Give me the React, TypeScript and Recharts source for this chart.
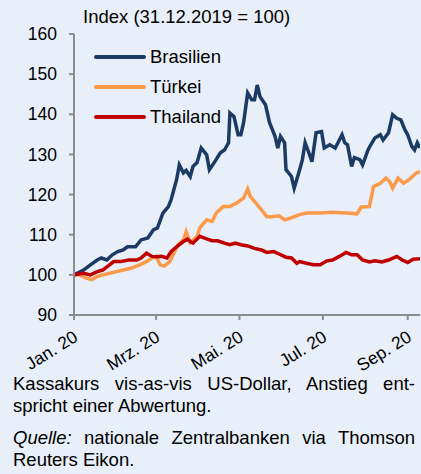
import { LineChart, Line, XAxis, YAxis, Legend } from 'recharts';

// days since 31.12.2019
const TICK_DAYS = [0, 60, 121, 182, 244];
const TICK_LABELS = ['Jan. 20', 'Mrz. 20', 'Mai. 20', 'Jul. 20', 'Sep. 20'];
const Y_TICKS = [90, 100, 110, 120, 130, 140, 150, 160];

const BR_DAYS = [0, 7, 12, 17, 20, 24, 28, 32, 36, 39, 45, 49, 54, 58, 61, 65, 69, 71, 75, 77, 80, 82, 85, 87, 90, 93, 97, 99, 103, 107, 110, 113, 114, 117, 120, 122, 124, 127, 130, 132, 134, 136, 140, 143, 147, 149, 151, 154, 155, 159, 161, 165, 167, 169, 171, 174, 177, 181, 183, 187, 191, 193, 196, 198, 200, 203, 205, 209, 211, 215, 217, 220, 224, 226, 230, 233, 236, 239, 242, 244, 247, 249, 251, 253];
const BR_VALUES = [100, 101.2, 102.5, 103.7, 104.2, 103.7, 105, 105.8, 106.2, 107, 107, 108.7, 109.2, 111.2, 111.7, 115.4, 117, 118.7, 123.7, 127.4, 125.4, 126, 124.5, 127, 128, 131.6, 129.9, 126.2, 128.2, 130.4, 131.1, 132.9, 140.3, 139.4, 134.9, 134.9, 137.9, 145.3, 143.6, 143.6, 147.3, 144.4, 142.4, 137.9, 134.5, 131.6, 134.5, 132.9, 126.2, 124.5, 121.6, 126.2, 128.7, 132.9, 131.1, 128.2, 135.4, 135.7, 131.6, 132.4, 131.6, 132.9, 134.9, 132.9, 132.4, 127, 129.2, 128.7, 127.4, 131.1, 132.4, 134.1, 134.9, 133.6, 135.4, 139.9, 139, 138.6, 136.1, 134.9, 132, 131.1, 132.9, 131.6];

const TR_DAYS = [0, 4, 9, 13, 17, 21, 26, 31, 36, 42, 48, 53, 57, 60, 63, 66, 70, 73, 76, 80, 82, 85, 90, 92, 97, 101, 104, 109, 114, 119, 124, 127, 129, 133, 138, 141, 144, 150, 154, 158, 165, 170, 180, 189, 199, 207, 210, 216, 219, 224, 228, 231, 233, 237, 241, 245, 250, 253];
const TR_VALUES = [100, 100, 99.2, 98.8, 99.6, 100, 100.4, 100.8, 101.2, 101.7, 102.5, 103.3, 104.2, 104.6, 102.5, 102.2, 103.3, 105.4, 107.5, 108.7, 110.8, 108, 109.6, 111.7, 113.7, 113.3, 115.4, 117, 117, 117.9, 119.1, 121.4, 119.5, 117.9, 115.8, 114.5, 114.5, 114.7, 113.7, 114.1, 115, 115.4, 115.4, 115.6, 115.4, 115.2, 116.9, 117, 122, 122.8, 124.1, 123.2, 121.6, 124.1, 122.8, 123.7, 125.3, 125.7];

const TH_DAYS = [0, 7, 12, 17, 21, 26, 29, 34, 40, 46, 49, 53, 57, 60, 64, 68, 71, 75, 80, 83, 85, 87, 92, 96, 101, 105, 110, 114, 118, 122, 127, 132, 137, 141, 146, 150, 155, 159, 163, 165, 170, 175, 180, 185, 189, 194, 199, 203, 207, 211, 216, 220, 225, 230, 236, 240, 244, 248, 253];
const TH_VALUES = [100, 100.4, 100, 100.8, 101.2, 102.5, 103.3, 103.3, 103.7, 103.7, 104.2, 105.4, 104.6, 104.5, 104.6, 104.2, 105.8, 107, 108.3, 108.9, 108.3, 107.9, 109.6, 109.1, 108.5, 108.5, 107.9, 107.5, 107.9, 107.5, 107.2, 106.6, 106.2, 105.6, 105.8, 105.2, 104.4, 104.2, 102.9, 103.3, 102.9, 102.5, 102.5, 103.5, 103.7, 104.6, 105.6, 105, 105, 103.7, 103.2, 103.5, 103.2, 103.7, 104.6, 103.7, 103.1, 103.9, 104];

const toPoints = (days: number[], values: number[]) => days.map((day, i) => ({ day, value: values[i] }));

const SERIES = [
  { name: 'Brasilien', color: '#1b3a64', data: toPoints(BR_DAYS, BR_VALUES) },
  { name: 'Türkei', color: '#fb9a4b', data: toPoints(TR_DAYS, TR_VALUES) },
  { name: 'Thailand', color: '#c00000', data: toPoints(TH_DAYS, TH_VALUES) },
];
// drawing order: orange below, red on top
const DRAW_ORDER = ['Türkei', 'Brasilien', 'Thailand'];

const FONT = '"Liberation Sans", Arial, sans-serif';
const BG = '#e8eff8';
const AXIS = '#8c8c8c';

const XTick = ({ x, y, payload }: any) => {
  const label = TICK_LABELS[TICK_DAYS.indexOf(payload.value)];
  const tx = x + 5;
  const ty = y + 18;
  return (
    <text
      x={tx}
      y={ty}
      textAnchor="end"
      transform={`rotate(-32, ${tx}, ${ty})`}
      fill="#000"
      fontSize={17.5}
      fontFamily={FONT}
    >
      {label}
    </text>
  );
};

const LegendContent = () => (
  <div style={{ fontFamily: FONT, fontSize: 18.5, color: '#000' }}>
    {SERIES.map((s) => (
      <div key={s.name} style={{ display: 'flex', alignItems: 'center', height: 30 }}>
        <div style={{ width: 52, height: 4, background: s.color, borderRadius: 2, marginRight: 4 }} />
        <span>{s.name}</span>
      </div>
    ))}
  </div>
);

export default function App() {
  return (
    <div style={{ position: 'absolute', left: 0, top: 0, width: 421, height: 474, background: BG, overflow: 'hidden', fontFamily: FONT }}>
      <div style={{ position: 'absolute', left: 83, top: 6, fontSize: 18.5, color: '#000' }}>Index (31.12.2019 = 100)</div>
      <LineChart width={421} height={380} margin={{ top: 34, right: 1, bottom: 0, left: 0 }}>
        <XAxis
          type="number"
          dataKey="day"
          domain={[0, 253]}
          ticks={TICK_DAYS}
          interval={0}
          allowDataOverflow
          height={65}
          stroke={AXIS}
          strokeWidth={2}
          tickSize={5}
          tick={<XTick />}
        />
        <YAxis
          type="number"
          dataKey="value"
          domain={[90, 160]}
          ticks={Y_TICKS}
          interval={0}
          width={74}
          stroke={AXIS}
          strokeWidth={2}
          tickSize={5}
          tickMargin={12}
          tick={{ fill: '#000', fontSize: 17.5, fontFamily: FONT }}
        />
        <Legend
          layout="vertical"
          align="center"
          verticalAlign="middle"
          wrapperStyle={{ top: 42, left: 94, width: 'auto' }}
          content={<LegendContent />}
        />
        {DRAW_ORDER.map((name) => {
          const s = SERIES.find((x) => x.name === name)!;
          return (
            <Line
              key={s.name}
              data={s.data}
              dataKey="value"
              name={s.name}
              type="linear"
              stroke={s.color}
              strokeWidth={3.5}
              dot={false}
              activeDot={false}
              isAnimationActive={false}
            />
          );
        })}
      </LineChart>
      <div style={{ position: 'absolute', left: 13, top: 373, width: 402, fontSize: 18.5, lineHeight: '22px', color: '#000' }}>
        <div style={{ textAlign: 'justify', textAlignLast: 'justify' }}>Kassakurs vis-as-vis US-Dollar, Anstieg ent-</div>
        <div>spricht einer Abwertung.</div>
        <div style={{ height: 10 }} />
        <div style={{ textAlign: 'justify', textAlignLast: 'justify' }}>
          <i>Quelle:</i> nationale Zentralbanken via Thomson
        </div>
        <div>Reuters Eikon.</div>
      </div>
    </div>
  );
}
